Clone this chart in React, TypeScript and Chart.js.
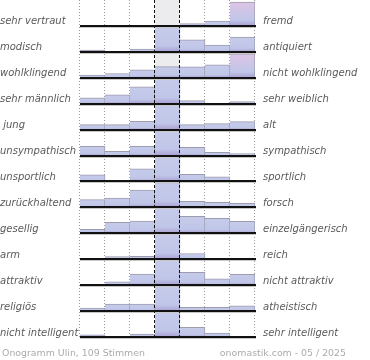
import React, { useEffect, useRef } from "react";
import { Chart, registerables } from "chart.js";

Chart.register(...registerables);

const leftLabels = [
  "sehr vertraut", "modisch", "wohlklingend", "sehr männlich", " jung",
  "unsympathisch", "unsportlich", "zurückhaltend", "gesellig", "arm",
  "attraktiv", "religiös", "nicht intelligent",
];
const rightLabels = [
  "fremd", "antiquiert", "nicht wohlklingend", "sehr weiblich", "alt",
  "sympathisch", "sportlich", "forsch", "einzelgängerisch", "reich",
  "nicht attraktiv", "atheistisch", "sehr intelligent",
];
const scaleSteps = ["1", "2", "3", "4", "5", "6", "7"];
// share per step (100 = full row height)
const rowValues: number[][] = [
  [0, 0, 0, 0, 9, 19, 96],
  [7, 0, 11, 100, 48, 27, 59],
  [11, 17, 32, 45, 44, 52, 96],
  [24, 36, 68, 100, 12, 0, 8],
  [20, 20, 33, 100, 20, 24, 32],
  [37, 17, 37, 100, 33, 13, 8],
  [27, 5, 51, 100, 29, 19, 0],
  [31, 37, 69, 100, 24, 20, 16],
  [16, 44, 49, 100, 68, 60, 48],
  [4, 11, 12, 100, 23, 0, 0],
  [0, 13, 44, 100, 51, 25, 43],
  [12, 28, 28, 100, 15, 15, 21],
  [9, 0, 12, 100, 39, 16, 0],
];
const footerLeft = "Onogramm Ulin, 109 Stimmen";
const footerRight = "onomastik.com - 05 / 2025";

const ROW = 104;
const NROWS = rowValues.length;

export default function App() {
  const ref = useRef<HTMLCanvasElement>(null);
  useEffect(() => {
    if (!ref.current) return;
    const datasets = rowValues.map((vals, r) => {
      const base = (NROWS - 1 - r) * ROW;
      return {
        label: leftLabels[r],
        data: vals.map((v) => (v > 0 ? [base, base + v] : null)),
        grouped: false,
        barPercentage: 1,
        categoryPercentage: 1,
        borderColor: "#9c9cae",
        borderWidth: { top: 1, right: 1, left: 0, bottom: 0 },
        borderSkipped: false,
        backgroundColor: (ctx: any) => {
          const chart = ctx.chart;
          const raw = ctx.raw as [number, number] | null;
          const ys = chart.scales && chart.scales.y;
          if (!raw || !ys) return "#c2c8e8";
          const top = ys.getPixelForValue(raw[1]);
          const bot = ys.getPixelForValue(raw[0]);
          if (!isFinite(top) || !isFinite(bot) || bot - top < 0.5) return "#b0a8d8";
          const g = chart.ctx.createLinearGradient(0, top, 0, bot);
          const v = raw[1] - raw[0];
          const pink = v >= 90 && ctx.dataIndex !== 3;
          g.addColorStop(0, pink ? "#ddc5e6" : "#c6cbea");
          g.addColorStop(0.75, "#c0c6e8");
          g.addColorStop(1, "#a99fd3");
          return g;
        },
      };
    });

    const decor = {
      id: "decor",
      beforeDatasetsDraw(chart: any) {
        const { ctx, chartArea } = chart;
        const xs = chart.scales.x;
        const half = xs.getPixelForValue(1) - xs.getPixelForValue(0);
        const edges = scaleSteps.map((_, i) => xs.getPixelForValue(i) - half / 2);
        edges.push(xs.getPixelForValue(scaleSteps.length - 1) + half / 2);
        ctx.save();
        ctx.fillStyle = "#ececee";
        ctx.fillRect(edges[3], chartArea.top, edges[4] - edges[3], chartArea.bottom - chartArea.top + 1);
        ctx.strokeStyle = "#9a9a9a";
        ctx.lineWidth = 1;
        ctx.setLineDash([1, 2]);
        edges.forEach((x: number, i: number) => {
          if (i === 3 || i === 4) return;
          ctx.beginPath();
          ctx.moveTo(Math.round(x) - 0.5, chartArea.top);
          ctx.lineTo(Math.round(x) - 0.5, chartArea.bottom + 2);
          ctx.stroke();
        });
        ctx.restore();
      },
      afterDatasetsDraw(chart: any) {
        const { ctx, chartArea } = chart;
        const xs = chart.scales.x;
        const ys = chart.scales.y;
        const half = xs.getPixelForValue(1) - xs.getPixelForValue(0);
        const x0 = xs.getPixelForValue(0) - half / 2;
        const x1 = xs.getPixelForValue(scaleSteps.length - 1) + half / 2;
        ctx.save();
        // baselines
        for (let r = 0; r < NROWS; r++) {
          const y = ys.getPixelForValue((NROWS - 1 - r) * ROW);
          ctx.fillStyle = "#c8c8c8";
          ctx.fillRect(x0, Math.round(y) + 1, x1 - x0 + 1, 1);
          ctx.fillStyle = "#111";
          ctx.fillRect(x0, Math.round(y) - 1, x1 - x0 + 1, 2);
        }
        // dashed middle lines
        ctx.strokeStyle = "#111";
        ctx.lineWidth = 1;
        ctx.setLineDash([3, 2]);
        [3, 4].forEach((i) => {
          const x = Math.round(xs.getPixelForValue(i) - half / 2) - 0.5;
          ctx.beginPath();
          ctx.moveTo(x, chartArea.top);
          ctx.lineTo(x, chartArea.bottom + 2);
          ctx.stroke();
        });
        ctx.setLineDash([]);
        // labels
        ctx.font = "italic 10px 'DejaVu Sans'";
        ctx.fillStyle = "#5a5a5a";
        ctx.textBaseline = "alphabetic";
        for (let r = 0; r < NROWS; r++) {
          const y = ys.getPixelForValue((NROWS - 1 - r) * ROW) - 1.5;
          ctx.textAlign = "left";
          ctx.fillText(leftLabels[r], 0, y);
          ctx.fillText(rightLabels[r], 263, y);
        }
        ctx.font = "9.4px 'DejaVu Sans'";
        ctx.fillStyle = "#ababab";
        ctx.textAlign = "left";
        ctx.fillText(footerLeft, 2, 355.5);
        ctx.textAlign = "right";
        ctx.fillText(footerRight, 346, 355.5);
        ctx.restore();
      },
    };

    const chart = new Chart(ref.current, {
      type: "bar",
      data: { labels: scaleSteps, datasets: datasets as any },
      options: {
        responsive: false,
        animation: false,
        devicePixelRatio: 1,
        layout: { padding: { left: 80, right: 115, top: 0, bottom: 23 } },
        plugins: { legend: { display: false }, tooltip: { enabled: false } },
        scales: {
          x: { display: false, offset: true },
          y: { display: false, min: 0, max: NROWS * ROW },
        },
      },
      plugins: [decor],
    });
    return () => chart.destroy();
  }, []);
  return (
    <div style={{ position: "absolute", left: 0, top: 0, width: 370, height: 360, background: "#fff" }}>
      <canvas ref={ref} width={370} height={360} style={{ display: "block" }} />
    </div>
  );
}
